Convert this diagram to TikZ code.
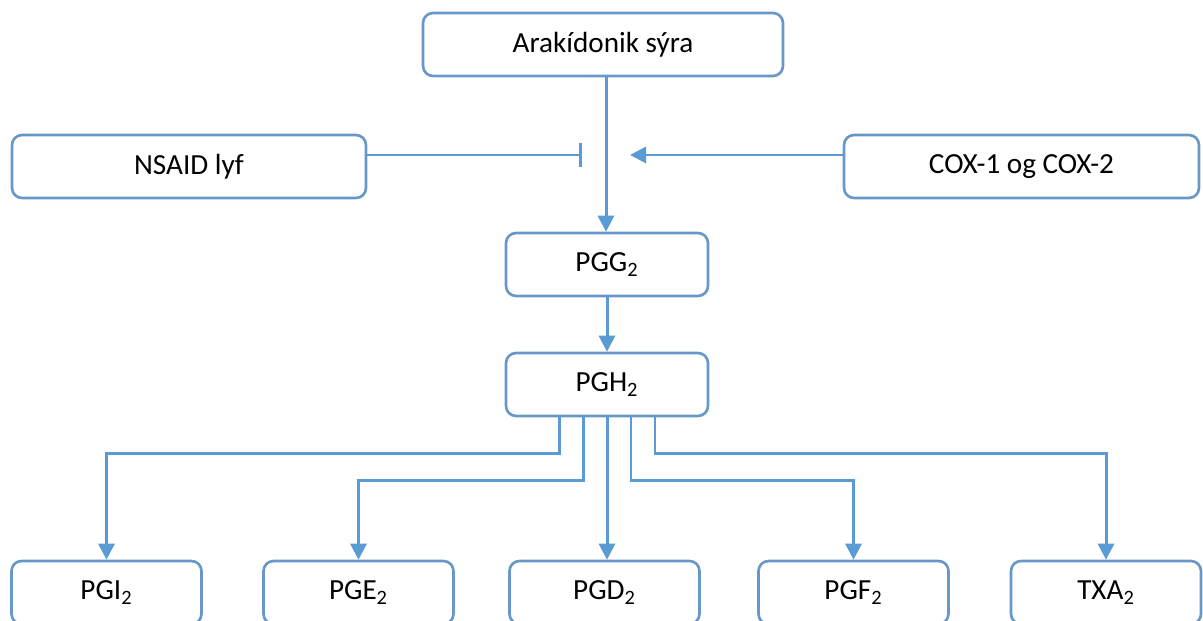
\documentclass[tikz,border=0pt]{standalone}
\usepackage{fontspec}
\setmainfont{Carlito}
\usetikzlibrary{arrows.meta}

\definecolor{boxblue}{RGB}{104,152,200}
\definecolor{lineblue}{RGB}{91,155,213}

\tikzset{
	stepnode/.style={draw=boxblue, line width=1.5pt, rounded corners=0.2cm, fill=white,
		minimum height=1.26cm, inner sep=0pt, font=\fontsize{16.6}{19}\selectfont},
	flow/.style={draw=lineblue, line width=1.7pt, -{Triangle[length=0.32cm, width=0.32cm]}},
	inhib/.style={draw=lineblue, line width=1.7pt, -{Bar[width=0.48cm]}},
}

\begin{document}
\begin{tikzpicture}[x=0.02cm, y=-0.02cm]

	\useasboundingbox (0, 0) rectangle (1203, 621);

	% top row
	\node[stepnode, minimum width=7.2cm] (ara) at (603, 44.5) {Arakídonik sýra};
	\node[stepnode, minimum width=7.08cm] (nsaid) at (189, 166.5) {NSAID lyf};
	\node[stepnode, minimum width=7.1cm] (cox) at (1021.5, 166.5) {COX-1 og COX-2};

	\node[stepnode, minimum width=4.04cm] (pgg) at (607, 264.5) {PGG\textsubscript{2}};
	\node[stepnode, minimum width=4.04cm] (pgh) at (607, 384.5) {PGH\textsubscript{2}};

	% products
	\node[stepnode, minimum width=3.8cm] (pgi) at (106.5, 592.5) {PGI\textsubscript{2}};
	\node[stepnode, minimum width=3.8cm] (pge) at (358.5, 592.5) {PGE\textsubscript{2}};
	\node[stepnode, minimum width=3.8cm] (pgd) at (604.5, 592.5) {PGD\textsubscript{2}};
	\node[stepnode, minimum width=3.8cm] (pgf) at (853.5, 592.5) {PGF\textsubscript{2}};
	\node[stepnode, minimum width=3.8cm] (txa) at (1106, 592.5) {TXA\textsubscript{2}};

	\coordinate (bar) at (582, 155);
	\coordinate (tip) at (630, 155);
	\coordinate (down) at (606, 0);

	\draw[inhib] (nsaid.east |- bar) -- (bar);
	\draw[flow] (cox.west |- tip) -- (tip);
	\draw[flow] (down |- ara.south) -- (down |- pgg.north);
	\draw[flow] (pgg.south) -- (pgh.north);

	\draw[flow] ([xshift=-0.96cm]pgh.south) -- ++(0, 36) -| (pgi.north);
	\draw[flow] ([xshift=-0.48cm]pgh.south) -- ++(0, 63) -| (pge.north);
	\draw[flow] (pgh.south) -- (pgh.south |- pgd.north);
	\draw[flow] ([xshift=0.48cm]pgh.south) -- ++(0, 63) -| (pgf.north);
	\draw[flow] ([xshift=0.96cm]pgh.south) -- ++(0, 36) -| (txa.north);

\end{tikzpicture}
\end{document}
